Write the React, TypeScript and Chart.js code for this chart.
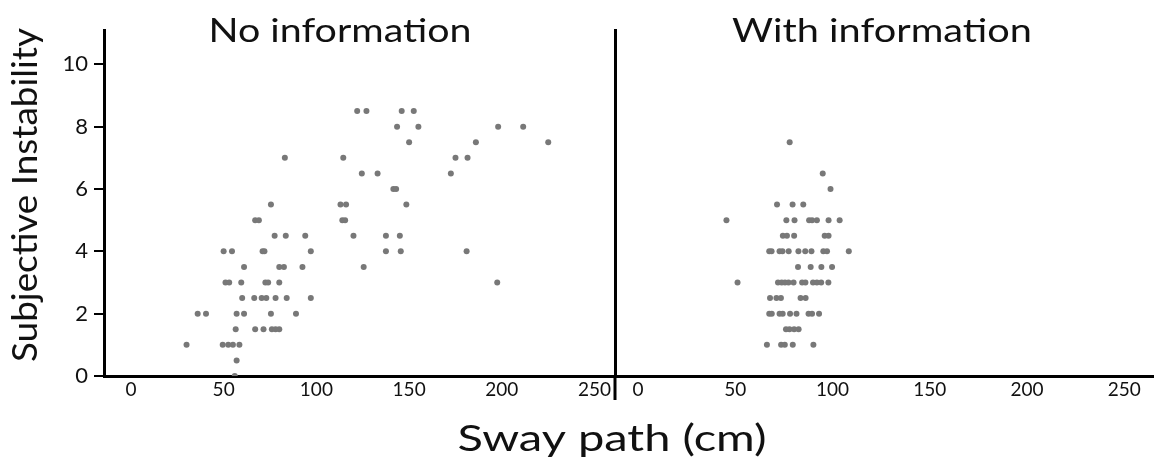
import React, { useEffect, useRef } from "react";
import { Chart, registerables } from "chart.js";

Chart.register(...registerables);

// ---- Data ----
const noInfoSway: number[] = [
  30, 49.5, 52.5, 55, 58.5,
  57, 56,
  56.5, 67, 71.5, 76, 78, 80,
  36, 40.5, 57, 61, 75.5, 89,
  60, 66.5, 70.5, 73, 78, 84, 97,
  51, 53, 59.5, 72.5, 74, 80, 197.5,
  61, 80, 82.5, 92.5, 125.5,
  50, 54.5, 71, 72, 97, 137.5, 145.5, 181,
  77.5, 83.5, 94, 120, 137.5, 145,
  67, 69, 114, 115.5,
  75.5, 113, 116, 148.5,
  141.5, 143,
  124.5, 133, 172.5,
  83, 114.5, 175, 181.5,
  150, 186, 225,
  143.5, 155, 198, 211.5,
  122, 127, 146, 152.5,
];
const noInfoInstability: number[] = [
  1, 1, 1, 1, 1,
  0.5, 0,
  1.5, 1.5, 1.5, 1.5, 1.5, 1.5,
  2, 2, 2, 2, 2, 2,
  2.5, 2.5, 2.5, 2.5, 2.5, 2.5, 2.5,
  3, 3, 3, 3, 3, 3, 3,
  3.5, 3.5, 3.5, 3.5, 3.5,
  4, 4, 4, 4, 4, 4, 4, 4,
  4.5, 4.5, 4.5, 4.5, 4.5, 4.5,
  5, 5, 5, 5,
  5.5, 5.5, 5.5, 5.5,
  6, 6,
  6.5, 6.5, 6.5,
  7, 7, 7, 7,
  7.5, 7.5, 7.5,
  8, 8, 8, 8,
  8.5, 8.5, 8.5, 8.5,
];

const withInfoSway: number[] = [
  78,
  95,
  99,
  71.5, 79.5, 85,
  45.5, 76.3, 80.5, 88, 89.5, 92, 98, 103.7,
  74.5, 76.6, 80.3, 96, 98,
  67.5, 68.7, 72.8, 74.3, 77.5, 82.5, 86, 89.2, 95.3, 97.2, 108.4,
  82.3, 88.8, 94.3, 99.8,
  51.2, 72, 73.9, 75.6, 77.4, 80, 84.4, 86.1, 90, 92, 94.2, 97.9,
  67.9, 71.2, 73.5, 83.6, 86.2,
  67.5, 68.8, 72.8, 74.4, 78.2, 81.5, 87.7, 89.5, 93.1,
  76.1, 77.9, 80.3, 82.6,
  66.3, 73.6, 75.5, 79.6, 90.2,
];
const withInfoInstability: number[] = [
  7.5,
  6.5,
  6,
  5.5, 5.5, 5.5,
  5, 5, 5, 5, 5, 5, 5, 5,
  4.5, 4.5, 4.5, 4.5, 4.5,
  4, 4, 4, 4, 4, 4, 4, 4, 4, 4, 4,
  3.5, 3.5, 3.5, 3.5,
  3, 3, 3, 3, 3, 3, 3, 3, 3, 3, 3, 3,
  2.5, 2.5, 2.5, 2.5, 2.5,
  2, 2, 2, 2, 2, 2, 2, 2, 2,
  1.5, 1.5, 1.5, 1.5,
  1, 1, 1, 1, 1,
];

const xTicks: number[] = [0, 50, 100, 150, 200, 250];
const yTicks: number[] = [0, 2, 4, 6, 8, 10];

const panelTitles: string[] = ["No information", "With information"];
const xAxisTitle = "Sway path (cm)";
const yAxisTitle = "Subjective Instability";

// ---- Styling ----
const W = 1156;
const H = 470;
const FONT = "Lato, 'Open Sans', sans-serif";
const DOT = "#787878";
const INK = "#111111";

function drawFitted(
  ctx: CanvasRenderingContext2D,
  text: string,
  x: number,
  y: number,
  size: number,
  width: number,
  rotate: boolean,
  weight: number
) {
  ctx.save();
  ctx.font = `${weight} ${size}px ${FONT}`;
  const w = ctx.measureText(text).width;
  ctx.translate(x, y);
  if (rotate) ctx.rotate(-Math.PI / 2);
  ctx.scale(width / w, 1);
  ctx.textAlign = "center";
  ctx.textBaseline = "alphabetic";
  ctx.fillStyle = INK;
  ctx.fillText(text, 0, 0);
  ctx.restore();
}

const titlesPlugin = {
  id: "titles",
  afterDraw(chart: any) {
    const ctx = chart.ctx as CanvasRenderingContext2D;
    drawFitted(ctx, panelTitles[0], 340, 42, 33, 263, false, 400);
    drawFitted(ctx, panelTitles[1], 882, 42, 33, 300, false, 400);
    drawFitted(ctx, xAxisTitle, 612, 451, 36, 309, false, 400);
    drawFitted(ctx, yAxisTitle, 37, 195, 34, 334, true, 400);
  },
};

const dividerPlugin = {
  id: "divider",
  afterDraw(chart: any) {
    const { ctx, chartArea } = chart;
    ctx.save();
    ctx.strokeStyle = "#000";
    ctx.lineWidth = 3;
    ctx.beginPath();
    ctx.moveTo(chartArea.left, chartArea.bottom);
    ctx.lineTo(chartArea.left, chartArea.bottom + 24);
    ctx.stroke();
    ctx.restore();
  },
};

function setTicks(values: number[]) {
  return (scale: any) => {
    scale.ticks = values.map((v) => ({ value: v }));
  };
}

export default function App() {
  const leftRef = useRef<HTMLCanvasElement>(null);
  const rightRef = useRef<HTMLCanvasElement>(null);

  useEffect(() => {
    const left = new Chart(leftRef.current as HTMLCanvasElement, {
      type: "scatter",
      data: {
        datasets: [
          {
            data: noInfoSway.map((x, i) => ({ x, y: noInfoInstability[i] })),
            pointRadius: 3,
            pointHoverRadius: 3,
            pointBackgroundColor: DOT,
            pointBorderWidth: 0,
          },
        ],
      },
      options: {
        responsive: false,
        animation: false,
        events: [],
        layout: { padding: { top: 30, right: W - 615, left: 0, bottom: 0 } },
        plugins: { legend: { display: false }, tooltip: { enabled: false } },
        scales: {
          x: {
            type: "linear",
            min: -14.5,
            max: 261,
            afterBuildTicks: setTicks(xTicks),
            afterFit: (s: any) => {
              s.height = H - 376;
            },
            grid: { display: false, drawTicks: false },
            border: { display: true, color: "#000", width: 3 },
            ticks: { color: INK, font: { family: FONT, size: 19 }, padding: 2 },
          },
          y: {
            type: "linear",
            min: 0,
            max: 11.1,
            afterBuildTicks: setTicks(yTicks),
            afterFit: (s: any) => {
              s.width = 104;
            },
            grid: {
              display: true,
              drawOnChartArea: false,
              drawTicks: true,
              tickLength: 10,
              color: "#000",
              lineWidth: 2,
            },
            border: { display: true, color: "#000", width: 3 },
            ticks: { color: INK, font: { family: FONT, size: 22 }, padding: 6 },
          },
        },
      },
      plugins: [titlesPlugin],
    });

    const right = new Chart(rightRef.current as HTMLCanvasElement, {
      type: "scatter",
      data: {
        datasets: [
          {
            data: withInfoSway.map((x, i) => ({ x, y: withInfoInstability[i] })),
            pointRadius: 3,
            pointHoverRadius: 3,
            pointBackgroundColor: DOT,
            pointBorderWidth: 0,
          },
        ],
      },
      options: {
        responsive: false,
        animation: false,
        events: [],
        layout: { padding: { top: 30, right: 0, left: 0, bottom: 0 } },
        plugins: { legend: { display: false }, tooltip: { enabled: false } },
        scales: {
          x: {
            type: "linear",
            min: -11.8,
            max: 264.8,
            afterBuildTicks: setTicks(xTicks),
            afterFit: (s: any) => {
              s.height = H - 376;
            },
            grid: { display: false, drawTicks: false },
            border: { display: true, color: "#000", width: 3 },
            ticks: { color: INK, font: { family: FONT, size: 19 }, padding: 2 },
          },
          y: {
            type: "linear",
            min: 0,
            max: 11.1,
            afterBuildTicks: setTicks(yTicks),
            afterFit: (s: any) => {
              s.width = 15;
            },
            grid: { display: false, drawTicks: false },
            border: { display: true, color: "#000", width: 3 },
            ticks: { display: false },
          },
        },
      },
      plugins: [dividerPlugin],
    });

    return () => {
      left.destroy();
      right.destroy();
    };
  }, []);

  return (
    <div
      style={{
        position: "fixed",
        left: 0,
        top: 0,
        width: W,
        height: H,
        background: "#fff",
      }}
    >
      <canvas
        ref={leftRef}
        width={W}
        height={H}
        style={{ position: "absolute", left: 0, top: 0, width: W, height: H }}
      />
      <canvas
        ref={rightRef}
        width={556}
        height={H}
        style={{ position: "absolute", left: 600, top: 0, width: 556, height: H }}
      />
    </div>
  );
}
